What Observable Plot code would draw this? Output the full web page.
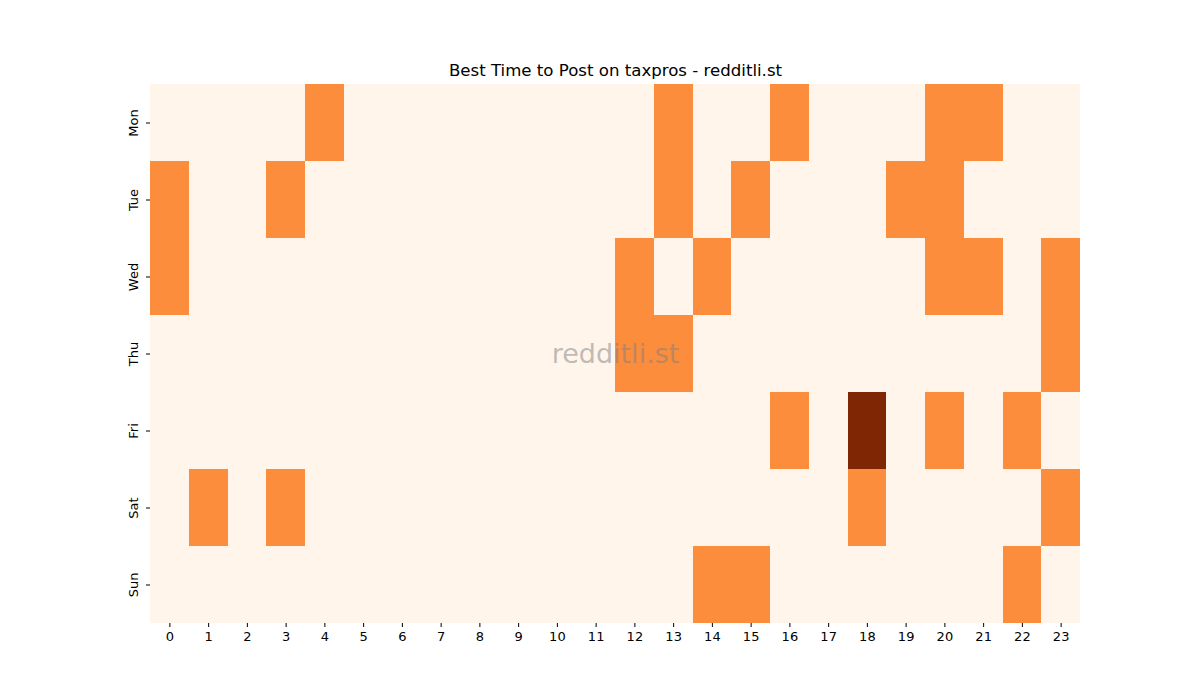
<!DOCTYPE html>
<html>
<head>
<meta charset="utf-8">
<script src="https://cdn.jsdelivr.net/npm/d3@7"></script>
<script src="https://cdn.jsdelivr.net/npm/@observablehq/plot@0.6"></script>
<style>
  html, body { margin: 0; padding: 0; background: #fff; }
  svg { font-family: "DejaVu Sans", sans-serif; }
</style>
</head>
<body>
<div id="chart"></div>
<script>
const title = "Best Time to Post on taxpros - redditli.st";
const watermark = "redditli.st";
const days = ["Mon", "Tue", "Wed", "Thu", "Fri", "Sat", "Sun"];
const hours = [0,1,2,3,4,5,6,7,8,9,10,11,12,13,14,15,16,17,18,19,20,21,22,23];
const mon = [0,0,0,0,1,0,0,0,0,0,0,0,0,1,0,0,1,0,0,0,1,1,0,0];
const tue = [1,0,0,1,0,0,0,0,0,0,0,0,0,1,0,1,0,0,0,1,1,0,0,0];
const wed = [1,0,0,0,0,0,0,0,0,0,0,0,1,0,1,0,0,0,0,0,1,1,0,1];
const thu = [0,0,0,0,0,0,0,0,0,0,0,0,1,1,0,0,0,0,0,0,0,0,0,1];
const fri = [0,0,0,0,0,0,0,0,0,0,0,0,0,0,0,0,1,0,2,0,1,0,1,0];
const sat = [0,1,0,1,0,0,0,0,0,0,0,0,0,0,0,0,0,0,1,0,0,0,0,1];
const sun = [0,0,0,0,0,0,0,0,0,0,0,0,0,0,1,1,0,0,0,0,0,0,1,0];
const rows = [mon, tue, wed, thu, fri, sat, sun];

const data = [];
rows.forEach((r, i) => r.forEach((v, h) => data.push({day: days[i], hour: hours[h], value: v})));

const chart = Plot.plot({
  width: 1200,
  height: 700,
  marginLeft: 150,
  marginRight: 120,
  marginTop: 84,
  marginBottom: 77,
  style: {fontFamily: "DejaVu Sans, sans-serif", fontSize: "13px", background: "#fff"},
  x: {type: "band", domain: hours, padding: 0, round: false, label: null},
  y: {type: "band", domain: days, padding: 0, round: false, label: null},
  color: {type: "linear", domain: [0, 2], interpolate: d3.interpolateOranges},
  marks: [
    Plot.cell(data, {x: "hour", y: "day", fill: "value", inset: 0, shapeRendering: "crispEdges"}),
    Plot.axisX({tickSize: 4, tickPadding: 4, fontSize: 13, label: null}),
    Plot.axisY({tickSize: 4, tickPadding: 9, fontSize: 13, tickRotate: -90, label: null}),
    Plot.text([watermark], {frameAnchor: "middle", text: d => d, fill: "gray", fillOpacity: 0.5, fontSize: 27}),
    Plot.text([title], {frameAnchor: "top", text: d => d, dy: -20, fontSize: 16.6, fill: "black"})
  ]
});
document.getElementById("chart").appendChild(chart);
</script>
</body>
</html>
